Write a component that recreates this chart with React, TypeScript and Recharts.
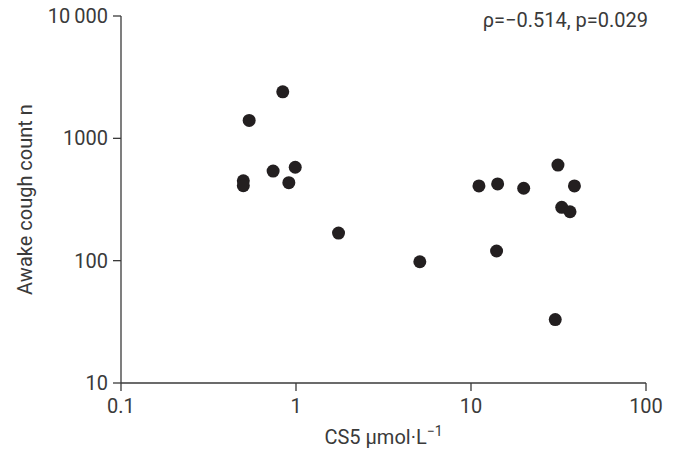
import React from 'react';
import { ScatterChart, Scatter, XAxis, YAxis } from 'recharts';

// CS5 concentration (µmol/L)
const cs5 = [0.84, 0.54, 0.74, 0.99, 0.91, 0.5, 0.5, 1.75, 5.1, 11.1, 14.2, 20, 39, 33, 36.8, 14, 30.3, 31.4];
// awake cough count for each subject
const coughCount = [2400, 1400, 540, 580, 434, 450, 410, 168, 98, 408, 424, 391, 408, 273, 251, 120, 33, 605];

const xTicks = [0.1, 1, 10, 100];
const yTicks = [10, 100, 1000, 10000];

const points = cs5.map((x, i) => ({ x, y: coughCount[i] }));

const INK = '#3a3a3a';
const DOT = '#231f20';
const FONT = 'Roboto, "Noto Sans", sans-serif';
const FS = 20;

const fmtY = (v: number) => (v === 10000 ? '10\u2009000' : String(v));

const XLabel = (props: any) => {
  const { viewBox } = props;
  const cx = viewBox.x + viewBox.width / 2;
  return (
    <text x={cx} y={viewBox.y + 61} textAnchor="middle" fill={INK} fontSize={FS} fontFamily={FONT}>
      CS5 μmol·L
      <tspan dy={-8} fontSize={14}>−1</tspan>
    </text>
  );
};

const YLabel = (props: any) => {
  const { viewBox } = props;
  const cy = viewBox.y + viewBox.height / 2;
  return (
    <text
      x={32}
      y={cy}
      transform={`rotate(-90 32 ${cy})`}
      textAnchor="middle"
      fill={INK}
      fontSize={FS}
      fontFamily={FONT}
    >
      Awake cough count n
    </text>
  );
};

const App: React.FC = () => {
  return (
    <div style={{ width: 676, height: 449, background: '#fff' }}>
      <style>{'body{margin:0}'}</style>
      <ScatterChart width={676} height={449} margin={{ top: 16, right: 30, bottom: 0, left: 0 }}>
        <XAxis
          type="number"
          dataKey="x"
          scale="log"
          domain={[0.1, 100]}
          ticks={xTicks}
          allowDataOverflow
          height={66}
          tickSize={8}
          tickMargin={8}
          stroke={INK}
          strokeWidth={1.3}
          tick={{ fill: INK, fontSize: FS, fontFamily: FONT }}
          label={<XLabel />}
        />
        <YAxis
          type="number"
          dataKey="y"
          scale="log"
          domain={[10, 10000]}
          ticks={yTicks}
          allowDataOverflow
          width={121}
          tickSize={8}
          tickMargin={5}
          stroke={INK}
          strokeWidth={1.3}
          tickFormatter={fmtY}
          tick={{ fill: INK, fontSize: FS, fontFamily: FONT }}
          label={<YLabel />}
        />
        <Scatter
          data={points}
          fill={DOT}
          isAnimationActive={false}
          shape={(p: any) => <circle cx={p.cx} cy={p.cy} r={6.5} fill={DOT} />}
        />
        <text x={648} y={27} textAnchor="end" fill={INK} fontSize={FS} fontFamily={FONT}>
          ρ=−0.514, p=0.029
        </text>
      </ScatterChart>
    </div>
  );
};

export default App;
